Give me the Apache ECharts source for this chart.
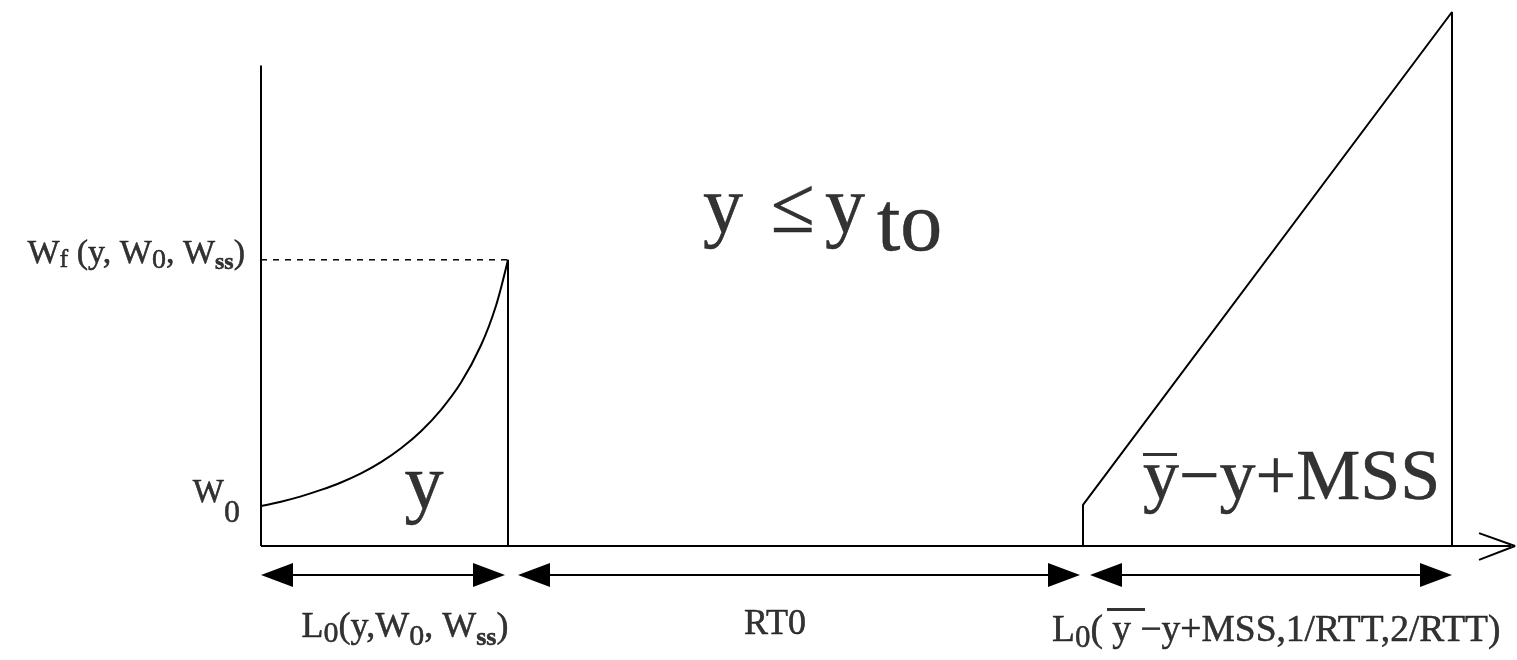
<!DOCTYPE html>
<html><head><meta charset="utf-8">
<script src="https://cdn.jsdelivr.net/npm/echarts@6/dist/echarts.min.js"></script>
<style>html,body{margin:0;padding:0;background:#fff}#c{width:1517px;height:660px}</style>
</head><body><div id="c"></div>
<script>
// ---- data (abstract units: time on x, window size on y) ----
const phaseBounds = [0, 24.7, 82.2, 119.1];          // start, end of y, end of RTO, end of recovery
const slowStartT = [0, 2, 4, 6, 8, 10, 12, 14, 16, 18, 20, 22, 23.5, 24.7];           // slow-start curve, time
const slowStartW = [7.5, 8.3, 9.3, 10.5, 11.9, 13.6, 15.7, 18.3, 21.5, 25.5, 30.6, 37.6, 45.0, 53.6]; // window
const W0 = 7.5;
const Wf = 53.6;
const rampT = [82.2, 82.2, 119.1, 119.1];            // recovery ramp, time
const rampW = [0, 7.7, 100, 0];                      // recovery ramp, window
const axisYTop = 90;
const axisXEnd = 125;

const FONT = 'Liberation Serif';
const zip = (a, b) => a.map((v, i) => [v, b[i]]);
const st = (size, extra) => Object.assign({fontFamily: FONT, fontSize: size, color: '#000', verticalAlign: 'middle',
  textBorderColor: '#000', textBorderWidth: 0.5}, extra || {});
const sub = (size, drop, lh, extra) => st(size, Object.assign({lineHeight: lh, padding: [2 * drop, 0, 0, 0]}, extra || {}));

function textMark(x, y, text, rich, align, vAlign) {
  return {
    type: 'scatter', data: [[x, y]], symbolSize: 0, silent: true, clip: false, z: 5, animation: false,
    label: {show: true, position: [0, 0], align: align, verticalAlign: vAlign, formatter: text, rich: rich,
            color: '#000', fontFamily: FONT}
  };
}
const lineSeries = (pts, extra) => Object.assign({
  type: 'line', data: pts, showSymbol: false, symbol: 'none', silent: true, clip: false, animation: false,
  lineStyle: {color: '#000', width: 2}
}, extra || {});

const arrowY = -5.43;
const b = phaseBounds;
const spans = [[b[0], b[1] - 0.3], [b[1] + 1.0, b[2] - 0.3], [b[2] + 0.7, b[3]]];
const half = 1.6;

const option = {
  backgroundColor: '#fff',
  animation: false,
  grid: {left: 0, right: 0, top: 0, bottom: 0},
  xAxis: {type: 'value', min: -26.1, max: 125.6, show: false},
  yAxis: {type: 'value', min: -21.35, max: 102.25, show: false},
  series: [
    // axes
    lineSeries([[0, 0], [0, axisYTop]]),
    lineSeries([[0, 0], [axisXEnd, 0]]),
    lineSeries([[axisXEnd - 3.2, 2.4], [axisXEnd + 0.4, 0], [axisXEnd - 3.2, -2.6]]),
    // slow start curve
    lineSeries(zip(slowStartT, slowStartW), {smooth: 0.3}),
    lineSeries([[b[1], 0], [b[1], Wf]]),
    lineSeries([[0, Wf], [b[1], Wf]], {lineStyle: {color: '#000', width: 1.5, type: [6, 6]}}),
    // recovery ramp
    lineSeries(zip(rampT, rampW)),
    // interval arrows
    {
      type: 'line', data: [], silent: true,
      markLine: {
        silent: true, animation: false, symbol: ['triangle', 'triangle'], symbolSize: [24, 32],
        label: {show: false}, lineStyle: {color: '#000', width: 2, type: 'solid'},
        itemStyle: {color: '#000'},
        emphasis: {disabled: true},
        data: spans.map(([s, e]) => [{coord: [s + half, arrowY]}, {coord: [e - half, arrowY]}])
      }
    },
    // y-axis labels
    textMark(-1.6, 54.7, '{n|W}{s|f}{n| (y, W}{s0|0}{n|, W}{ss|ss}{n|)}', {
      n: st(34, {lineHeight: 40}), s: sub(26, 6, 40), s0: sub(28, 7, 40), ss: sub(24, 9, 40, {fontWeight: 'bold'})
    }, 'right', 'middle'),
    textMark(-2.1, 9.93, '{n|W}{s|0}', {n: st(33, {lineHeight: 40}), s: sub(32, 21, 40)}, 'right', 'middle'),
    // big annotations
    textMark(16.3, 10.86, '{a|y}', {a: st(78, {lineHeight: 90})}, 'center', 'middle'),
    textMark(44.2, 62.73, '{a|y}{op|≤}{a|y}{t|to}', {
      a: st(80, {lineHeight: 90}), op: st(80, {lineHeight: 90, padding: [0, 10, 0, 28]}),
      t: st(84, {lineHeight: 90, padding: [34, 0, 0, 12]})
    }, 'left', 'middle'),
    textMark(88.2, 17.42, '{ov| }\n{a|y−y+MSS}', {
      ov: {width: 34, height: 3, lineHeight: 3, fontSize: 1, backgroundColor: '#000'},
      a: st(72, {lineHeight: 48})
    }, 'left', 'top'),
    // interval labels
    textMark(14.4, -15.36, '{n|L}{s|0}{n|(y,W}{s0|0}{n|, W}{ss|ss}{n|)}', {
      n: st(36, {lineHeight: 40}), s: sub(30, 6, 40), s0: sub(30, 9, 40), ss: sub(26, 10, 40, {fontWeight: 'bold'})
    }, 'center', 'middle'),
    textMark(51.4, -14.79, '{n|RT0}', {n: st(36, {lineHeight: 40})}, 'center', 'middle'),
    textMark(79.1, -11.61, '{sp| }{ov| }\n{n|L}{s|0}{n|( y −y+MSS,1/RTT,2/RTT)}', {
      sp: {width: 55, height: 3, lineHeight: 3, fontSize: 1},
      ov: {width: 38, height: 3, lineHeight: 3, fontSize: 1, backgroundColor: '#000'},
      n: st(37.5, {lineHeight: 40}), s: sub(31, 8, 40)
    }, 'left', 'top')
  ]
};
const chart = echarts.init(document.getElementById('c'));
chart.setOption(option);
</script>
</body></html>
